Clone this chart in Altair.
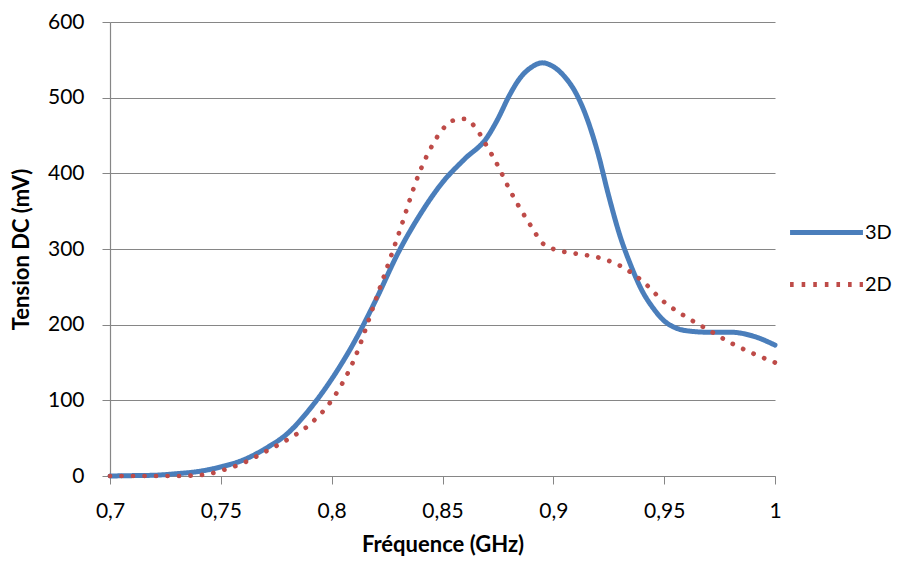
import altair as alt
import pandas as pd

freq_3d = [0.70, 0.71, 0.72, 0.73, 0.74, 0.75, 0.76, 0.77, 0.78, 0.79, 0.80, 0.81, 0.82, 0.83,
           0.84, 0.85, 0.86, 0.87, 0.875, 0.88, 0.885, 0.89, 0.895, 0.90, 0.905, 0.91, 0.915, 0.92,
           0.925, 0.93, 0.935, 0.94, 0.945, 0.95, 0.955, 0.96, 0.97, 0.98, 0.99, 1.00]
tension_3d = [0, 0.5, 1, 3, 6, 12, 21, 36, 56, 88, 128, 176, 233, 295,
              346, 388, 419, 447, 472, 502, 526, 540, 546, 541, 528, 507, 474, 428,
              370, 318, 278, 245, 222, 205, 196, 192, 190, 190, 185, 173]

freq_2d = [0.70, 0.71, 0.72, 0.73, 0.74, 0.745, 0.75, 0.76, 0.77, 0.78, 0.79, 0.80, 0.81, 0.82,
           0.83, 0.84, 0.845, 0.85, 0.855, 0.86, 0.865, 0.87, 0.875, 0.88, 0.89, 0.895,
           0.90, 0.91, 0.92, 0.93, 0.94, 0.95, 0.96, 0.97, 0.98, 0.99, 1.00]
tension_2d = [0, 0, 0, 0, 1, 3, 7, 17, 32, 48, 68, 100, 153, 234,
              318, 404, 435, 458, 470, 472, 460, 436, 410, 380, 330, 308,
              300, 294, 289, 278, 258, 230, 210, 193, 176, 162, 150]

series_names = ["3D", "2D"]
x_ticks = [0.7, 0.75, 0.8, 0.85, 0.9, 0.95, 1.0]
y_ticks = [0, 100, 200, 300, 400, 500, 600]

df = pd.concat([
    pd.DataFrame({"f": freq_3d, "v": tension_3d, "s": series_names[0], "o": range(len(freq_3d))}),
    pd.DataFrame({"f": freq_2d, "v": tension_2d, "s": series_names[1], "o": range(len(freq_2d))}),
])

FONT = "Lato"
GRID = "#868686"

x_enc = alt.X("f:Q", scale=alt.Scale(domain=[0.7, 1.0], nice=False),
              axis=alt.Axis(title="Fréquence (GHz)", values=x_ticks, grid=False,
                            labelExpr="replace(format(datum.value, '.2~f'), '.', ',')",
                            tickSize=8, labelPadding=16, titlePadding=13,
                            labelFlush=False))
y_enc = alt.Y("v:Q", scale=alt.Scale(domain=[0, 600], nice=False),
              axis=alt.Axis(title="Tension DC (mV)", values=y_ticks, grid=True,
                            tickSize=8, labelPadding=18, titlePadding=14))
color_enc = alt.Color("s:N", scale=alt.Scale(domain=series_names, range=["#4A7EBB", "#BE4B48"]),
                      legend=alt.Legend(title=None, orient="none", legendX=687, legendY=181,
                                        symbolType="M-1.35,0L1.35,0", symbolSize=2916,
                                        symbolStrokeWidth=4.8, labelFontSize=20, labelFont=FONT,
                                        labelColor="#000000", labelOffset=9, rowPadding=12,
                                        padding=0))
dash_enc = alt.StrokeDash("s:N", scale=alt.Scale(domain=series_names, range=[[1, 0], [3.6, 8]]),
                          legend=None)

line_3d = alt.Chart(df).transform_filter(alt.datum.s == series_names[0]).mark_line(
    interpolate="monotone", strokeCap="round", strokeJoin="round", strokeWidth=5
).encode(x=x_enc, y=y_enc, color=color_enc, strokeDash=dash_enc, order="o:Q")

line_2d = alt.Chart(df).transform_filter(alt.datum.s == series_names[1]).mark_line(
    interpolate="monotone", strokeCap="round", strokeWidth=4.7, strokeDash=[0.1, 11.4]
).encode(x=x_enc, y=y_enc, color=color_enc, order="o:Q")

chart = alt.layer(line_3d, line_2d).properties(
    width=665, height=454,
    autosize=alt.AutoSizeParams(type="none"),
    padding={"left": 102, "top": 14, "right": 117, "bottom": 80},
).configure_view(stroke=None).configure_axis(
    domainColor=GRID, tickColor=GRID, gridColor=GRID, domainWidth=1.2, gridWidth=1.2,
    labelFont=FONT, labelFontSize=21, labelColor="#000000",
    titleFont=FONT, titleFontSize=22, titleFontWeight="bold", titleColor="#000000",
)

chart.save("out.html", embed_options={"renderer": "svg", "actions": False})
